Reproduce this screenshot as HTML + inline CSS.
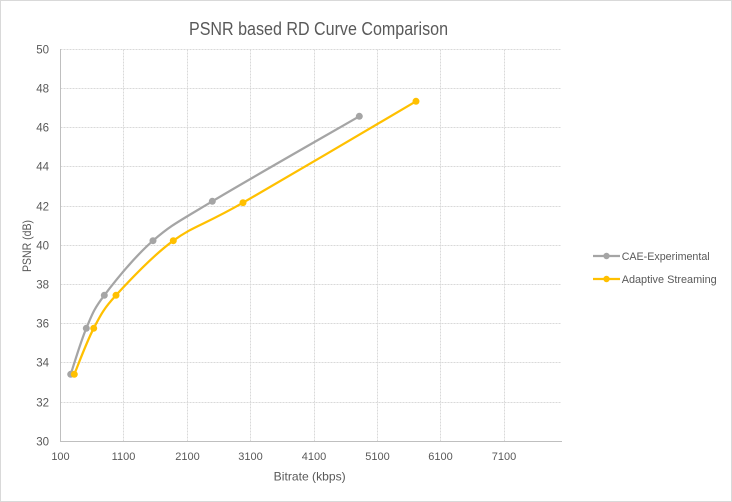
<!DOCTYPE html>
<html><head><meta charset="utf-8"><style>
html,body{margin:0;padding:0;background:#fff;}
svg{display:block;font-family:"Liberation Sans",sans-serif;}
</style></head><body>
<svg width="732" height="502" viewBox="0 0 732 502" xmlns="http://www.w3.org/2000/svg">
<rect x="0.5" y="0.5" width="731" height="501" fill="#fff" stroke="#D9D9D9" stroke-width="1"/>
<text x="318.5" y="35" font-size="18" fill="#595959" text-anchor="middle" textLength="259" lengthAdjust="spacingAndGlyphs">PSNR based RD Curve Comparison</text>
<g stroke="#D9D9D9" stroke-width="1" stroke-dasharray="2,1" fill="none">
<line x1="60.5" y1="49.5" x2="561.5" y2="49.5"/>
<line x1="60.5" y1="88.5" x2="561.5" y2="88.5"/>
<line x1="60.5" y1="127.5" x2="561.5" y2="127.5"/>
<line x1="60.5" y1="166.5" x2="561.5" y2="166.5"/>
<line x1="60.5" y1="206.5" x2="561.5" y2="206.5"/>
<line x1="60.5" y1="245.5" x2="561.5" y2="245.5"/>
<line x1="60.5" y1="284.5" x2="561.5" y2="284.5"/>
<line x1="60.5" y1="323.5" x2="561.5" y2="323.5"/>
<line x1="60.5" y1="362.5" x2="561.5" y2="362.5"/>
<line x1="60.5" y1="402.5" x2="561.5" y2="402.5"/>
<line x1="123.5" y1="49.5" x2="123.5" y2="441"/>
<line x1="187.5" y1="49.5" x2="187.5" y2="441"/>
<line x1="250.5" y1="49.5" x2="250.5" y2="441"/>
<line x1="314.5" y1="49.5" x2="314.5" y2="441"/>
<line x1="377.5" y1="49.5" x2="377.5" y2="441"/>
<line x1="440.5" y1="49.5" x2="440.5" y2="441"/>
<line x1="504.5" y1="49.5" x2="504.5" y2="441"/>
</g>
<g stroke="#BFBFBF" stroke-width="1">
<line x1="60.5" y1="49" x2="60.5" y2="441.5"/>
<line x1="60" y1="441.5" x2="562" y2="441.5"/>
</g>
<g font-size="11.5" fill="#595959" text-anchor="end">
<text x="49" y="53.5">50</text>
<text x="49" y="92.5">48</text>
<text x="49" y="131.5">46</text>
<text x="49" y="170.5">44</text>
<text x="49" y="210.5">42</text>
<text x="49" y="249.5">40</text>
<text x="49" y="288.5">38</text>
<text x="49" y="327.5">36</text>
<text x="49" y="366.5">34</text>
<text x="49" y="406.5">32</text>
<text x="49" y="445.5">30</text>
</g>
<g font-size="11" fill="#595959" text-anchor="middle">
<text x="60.5" y="460">100</text>
<text x="123.5" y="460">1100</text>
<text x="187.5" y="460">2100</text>
<text x="250.5" y="460">3100</text>
<text x="314" y="460">4100</text>
<text x="377.5" y="460">5100</text>
<text x="440.5" y="460">6100</text>
<text x="504" y="460">7100</text>
</g>
<text x="309.7" y="480.5" font-size="12" fill="#595959" text-anchor="middle" textLength="72" lengthAdjust="spacingAndGlyphs">Bitrate (kbps)</text>
<text transform="translate(31,246) rotate(-90)" x="0" y="0" font-size="12" fill="#595959" text-anchor="middle" textLength="52" lengthAdjust="spacingAndGlyphs">PSNR (dB)</text>

<path d="M70.7,374.3 C73.3,366.6 80.7,341.5 86.3,328.3 C91.9,315.1 93.2,309.9 104.3,295.3 C115.4,280.7 135,256.4 153,240.7 C171,225 177.9,222 212.3,201.3 C246.7,180.6 334.8,130.5 359.3,116.3" fill="none" stroke="#A5A5A5" stroke-width="2.25" stroke-linecap="round" stroke-linejoin="round"/>
<path d="M74.3,374.3 C77.5,366.6 86.75,341.5 93.7,328.3 C100.65,315.1 102.7,309.9 116,295.3 C129.3,280.7 152.1,256.1 173.3,240.7 C194.5,225.3 202.5,225.9 243,202.7 C283.5,179.5 387.2,118.2 416,101.3" fill="none" stroke="#FFC000" stroke-width="2.25" stroke-linecap="round" stroke-linejoin="round"/>
<g fill="#A5A5A5">
<circle cx="70.7" cy="374.3" r="3.5"/>
<circle cx="86.3" cy="328.3" r="3.5"/>
<circle cx="104.3" cy="295.3" r="3.5"/>
<circle cx="153" cy="240.7" r="3.5"/>
<circle cx="212.3" cy="201.3" r="3.5"/>
<circle cx="359.3" cy="116.3" r="3.5"/>
</g>
<g fill="#FFC000">
<circle cx="74.3" cy="374.3" r="3.5"/>
<circle cx="93.7" cy="328.3" r="3.5"/>
<circle cx="116" cy="295.3" r="3.5"/>
<circle cx="173.3" cy="240.7" r="3.5"/>
<circle cx="243" cy="202.7" r="3.5"/>
<circle cx="416" cy="101.3" r="3.5"/>
</g>

<line x1="593" y1="256" x2="620" y2="256" stroke="#A5A5A5" stroke-width="2.25"/>
<circle cx="606.5" cy="256" r="3.2" fill="#A5A5A5"/>
<text x="621.7" y="260" font-size="11" fill="#595959" textLength="88" lengthAdjust="spacingAndGlyphs">CAE-Experimental</text>
<line x1="593" y1="279" x2="620" y2="279" stroke="#FFC000" stroke-width="2.25"/>
<circle cx="606.5" cy="279" r="3.2" fill="#FFC000"/>
<text x="621.7" y="283" font-size="11" fill="#595959" textLength="95" lengthAdjust="spacingAndGlyphs">Adaptive Streaming</text>
</svg>
</body></html>
